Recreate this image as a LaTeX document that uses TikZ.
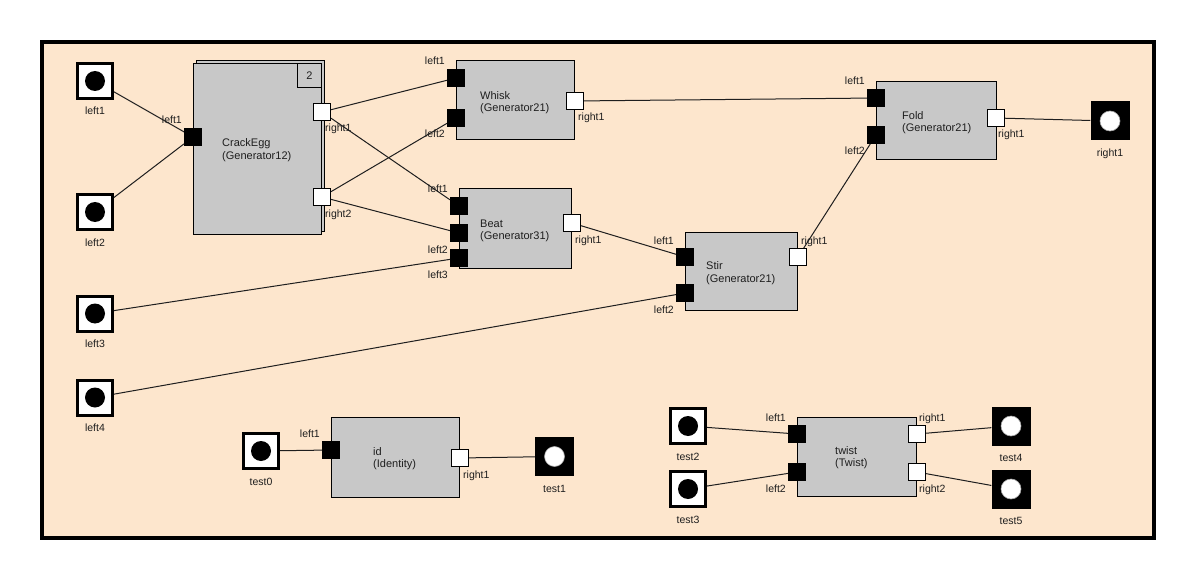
\documentclass[tikz,border=0pt]{standalone}
\usepackage{fontspec}
\setmainfont{Liberation Sans}
\definecolor{canvas}{RGB}{253,230,205}
\definecolor{blockgray}{RGB}{200,200,200}
\definecolor{ink}{RGB}{30,30,30}
\begin{document}
\begin{tikzpicture}[x=1pt,y=-1pt,
  blockbox/.style={draw=black, line width=1pt, fill=blockgray, inner sep=0pt},
  btext/.style={font=\fontsize{11}{12}\selectfont, text=ink, inner sep=0pt, anchor=base west},
  lbl/.style={font=\fontsize{10.5}{12}\selectfont, text=ink, inner sep=0pt},
  inport/.style={fill=black, minimum size=18pt, inner sep=0pt, outer sep=0pt},
  outport/.style={draw=black, line width=0.8pt, fill=white, minimum size=17.2pt, inner sep=0pt},
  interm/.style={draw=black, line width=3pt, fill=white, minimum size=35pt, inner sep=0pt,
    path picture={\fill[black] (path picture bounding box.center) circle (10pt);}},
  outterm/.style={fill=black, minimum size=39pt, inner sep=0pt,
    path picture={\filldraw[fill=white, draw=gray!70, line width=0.6pt] (path picture bounding box.center) circle (10pt);}},
  wire/.style={draw=ink, line width=1pt},
  lblleftup/.style={lbl, anchor=base east},
  lblrightup/.style={lbl, anchor=base west},
  tlbl/.style={lbl, anchor=base}
]
\useasboundingbox (0,0) rectangle (1196,580);
\fill[white] (0,0) rectangle (1196,580);
% outer frame
\draw[line width=4pt, fill=canvas] (42,42) rectangle (1154,538);

% ---- blocks ----
\node[blockbox, minimum width=128pt, minimum height=171pt] (ceback) at (260,146) {};
\node[blockbox, minimum width=128pt, minimum height=170pt] (ce) at (257,149) {};
\node[draw=black, line width=1pt, fill=blockgray, minimum size=24pt, inner sep=0pt,
      font=\fontsize{11}{12}\selectfont, text=ink] (cecount) at (309.5,76) {2};
\node[btext] (cename) at (222,147) {CrackEgg};
\node[btext] (cetype) at (222,160) {(Generator12)};

\node[blockbox, minimum width=118pt, minimum height=79pt] (whisk) at (515,100.5) {};
\node[btext] (whiskname) at (480,99.5) {Whisk};
\node[btext] (whisktype) at (480,112) {(Generator21)};

\node[blockbox, minimum width=112pt, minimum height=79pt] (beat) at (515,228.5) {};
\node[btext] (beatname) at (480,227) {Beat};
\node[btext] (beattype) at (480,239.5) {(Generator31)};

\node[blockbox, minimum width=112pt, minimum height=78pt] (stir) at (741,271) {};
\node[btext] (stirname) at (706,269.5) {Stir};
\node[btext] (stirtype) at (706,282) {(Generator21)};

\node[blockbox, minimum width=120pt, minimum height=78pt] (fold) at (936,121) {};
\node[btext] (foldname) at (902,119.5) {Fold};
\node[btext] (foldtype) at (902,132) {(Generator21)};

\node[blockbox, minimum width=128pt, minimum height=80pt] (idb) at (395,457) {};
\node[btext] (idname) at (373,455) {id};
\node[btext] (idtype) at (373,467.5) {(Identity)};

\node[blockbox, minimum width=119pt, minimum height=79pt] (twist) at (856.5,456.5) {};
\node[btext] (twistname) at (835,454) {twist};
\node[btext] (twisttype) at (835,466.5) {(Twist)};

% ---- ports ----
\node[inport]  (cel1) at (193,137) {};
\node[outport] (cer1) at (322,112) {};
\node[outport] (cer2) at (322,197) {};

\node[inport]  (wl1) at (456,78) {};
\node[inport]  (wl2) at (456,118) {};
\node[outport] (wr1) at (575,101) {};

\node[inport]  (bl1) at (459,206) {};
\node[inport]  (bl2) at (459,233) {};
\node[inport]  (bl3) at (459,258) {};
\node[outport] (br1) at (572,223) {};

\node[inport]  (sl1) at (685,257) {};
\node[inport]  (sl2) at (685,293) {};
\node[outport] (sr1) at (798,257) {};

\node[inport]  (fl1) at (876,98) {};
\node[inport]  (fl2) at (876,135) {};
\node[outport] (fr1) at (996,118) {};

\node[inport]  (il1) at (331,450) {};
\node[outport] (ir1) at (460,458) {};

\node[inport]  (tl1) at (797,434) {};
\node[inport]  (tl2) at (797,472) {};
\node[outport] (tr1) at (917,434) {};
\node[outport] (tr2) at (917,472) {};

% ---- terminals ----
\node[interm] (inleft1) at (95,81) {};
\node[interm] (inleft2) at (95,212) {};
\node[interm] (inleft3) at (95,313.5) {};
\node[interm] (inleft4) at (95,397.5) {};
\node[interm] (intest0) at (261,451) {};
\node[interm] (intest2) at (688,426) {};
\node[interm] (intest3) at (688,489) {};
\node[outterm] (outright1) at (1110,121) {};
\node[outterm] (outtest1) at (554.5,456.5) {};
\node[outterm] (outtest4) at (1011,426) {};
\node[outterm] (outtest5) at (1011,489) {};

% ---- connectors ----
\draw[wire] (inleft1) -- (cel1);
\draw[wire] (inleft2) -- (cel1);
\draw[wire] (cer1) -- (wl1);
\draw[wire] (cer1) -- (bl1);
\draw[wire] (cer2) -- (wl2);
\draw[wire] (cer2) -- (bl2);
\draw[wire] (inleft3) -- (bl3);
\draw[wire] (inleft4) -- (sl2);
\draw[wire] (wr1) -- (fl1);
\draw[wire] (br1) -- (sl1);
\draw[wire] (sr1) -- (fl2);
\draw[wire] (fr1) -- (outright1);
\draw[wire] (intest0) -- (il1);
\draw[wire] (ir1) -- (outtest1);
\draw[wire] (intest2) -- (tl1);
\draw[wire] (intest3) -- (tl2);
\draw[wire] (tr1) -- (outtest4);
\draw[wire] (tr2) -- (outtest5);

% ---- port labels ----
\node[lblleftup] (cel1t) at ([xshift=-2pt,yshift=4pt]cel1.north west) {left1};
\node[lblrightup] (cer1t) at ([xshift=3pt,yshift=-11pt]cer1.south) {right1};
\node[lblrightup] (cer2t) at ([xshift=3pt,yshift=-11pt]cer2.south) {right2};

\node[lblleftup] (wl1t) at ([xshift=-2pt,yshift=4pt]wl1.north west) {left1};
\node[lblleftup] (wl2t) at ([xshift=-2pt,yshift=-11pt]wl2.south west) {left2};
\node[lblrightup] (wr1t) at ([xshift=3pt,yshift=-11pt]wr1.south) {right1};

\node[lblleftup] (bl1t) at ([xshift=-2pt,yshift=4pt]bl1.north west) {left1};
\node[lblleftup] (bl2t) at ([xshift=-2pt,yshift=-11pt]bl2.south west) {left2};
\node[lblleftup] (bl3t) at ([xshift=-2pt,yshift=-11pt]bl3.south west) {left3};
\node[lblrightup] (br1t) at ([xshift=3pt,yshift=-11pt]br1.south) {right1};

\node[lblleftup] (sl1t) at ([xshift=-2pt,yshift=4pt]sl1.north west) {left1};
\node[lblleftup] (sl2t) at ([xshift=-2pt,yshift=-11pt]sl2.south west) {left2};
\node[lblrightup] (sr1t) at ([xshift=3pt,yshift=4pt]sr1.north) {right1};

\node[lblleftup] (fl1t) at ([xshift=-2pt,yshift=4pt]fl1.north west) {left1};
\node[lblleftup] (fl2t) at ([xshift=-2pt,yshift=-11pt]fl2.south west) {left2};
\node[lblrightup] (fr1t) at ([xshift=2pt,yshift=-11pt]fr1.south) {right1};

\node[lblleftup] (il1t) at ([xshift=-2pt,yshift=4pt]il1.north west) {left1};
\node[lblrightup] (ir1t) at ([xshift=3pt,yshift=-11pt]ir1.south) {right1};

\node[lblleftup] (tl1t) at ([xshift=-2pt,yshift=4pt]tl1.north west) {left1};
\node[lblleftup] (tl2t) at ([xshift=-2pt,yshift=-11pt]tl2.south west) {left2};
\node[lblrightup] (tr1t) at ([xshift=2pt,yshift=4pt]tr1.north) {right1};
\node[lblrightup] (tr2t) at ([xshift=2pt,yshift=-11pt]tr2.south) {right2};

% ---- terminal labels ----
\node[tlbl] (inleft1t) at ([yshift=-15pt]inleft1.south) {left1};
\node[tlbl] (inleft2t) at ([yshift=-15pt]inleft2.south) {left2};
\node[tlbl] (inleft3t) at ([yshift=-15pt]inleft3.south) {left3};
\node[tlbl] (inleft4t) at ([yshift=-15pt]inleft4.south) {left4};
\node[tlbl] (intest0t) at ([yshift=-15pt]intest0.south) {test0};
\node[tlbl] (intest2t) at ([yshift=-15pt]intest2.south) {test2};
\node[tlbl] (intest3t) at ([yshift=-15pt]intest3.south) {test3};
\node[tlbl] (outright1t) at ([yshift=-16pt]outright1.south) {right1};
\node[tlbl] (outtest1t) at ([yshift=-16pt]outtest1.south) {test1};
\node[tlbl] (outtest4t) at ([yshift=-16pt]outtest4.south) {test4};
\node[tlbl] (outtest5t) at ([yshift=-16pt]outtest5.south) {test5};
\end{tikzpicture}
\end{document}
